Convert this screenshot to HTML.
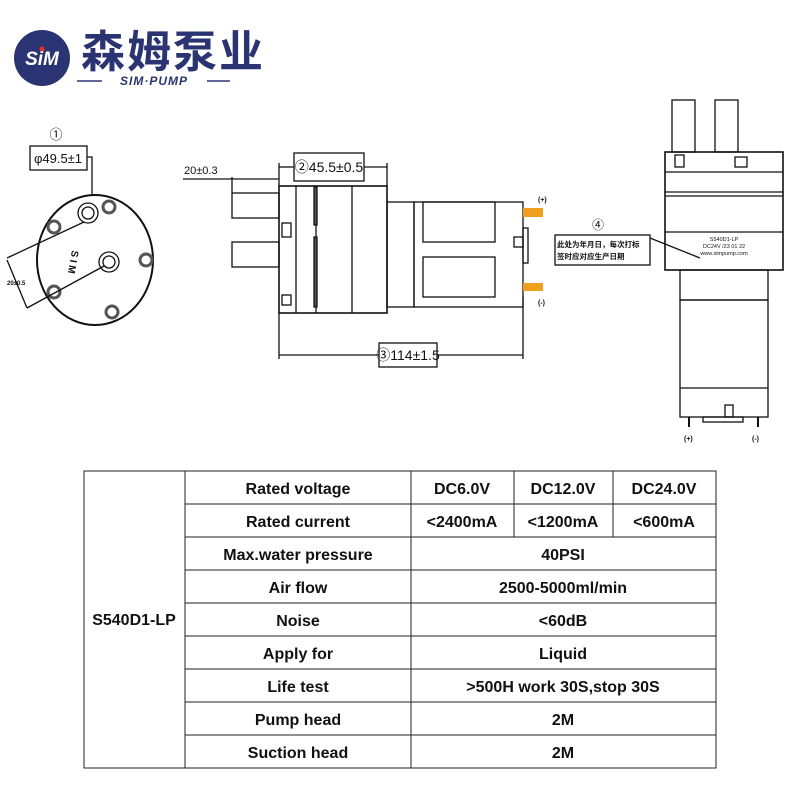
<!DOCTYPE html>
<html><head><meta charset="utf-8"><style>
body{margin:0;background:#fff}
svg{display:block}
text{font-family:"Liberation Sans","Noto Sans CJK SC",sans-serif}
</style></head><body>
<svg width="800" height="800" viewBox="0 0 800 800" xmlns="http://www.w3.org/2000/svg">
<!-- logo -->
<circle cx="42" cy="58" r="28" fill="#2b3472"/>
<text x="42" y="65" font-size="19" font-weight="bold" font-style="italic" fill="#fff" text-anchor="middle">SiM</text>
<circle cx="42" cy="49" r="2.5" fill="#e53030"/>
<text x="173" y="67" font-size="44" font-weight="bold" fill="#2b3472" text-anchor="middle" letter-spacing="2" font-family="Noto Sans CJK SC,sans-serif">森姆泵业</text>
<line x1="77" y1="81" x2="102" y2="81" stroke="#2b3472" stroke-width="1.5"/>
<line x1="207" y1="81" x2="230" y2="81" stroke="#2b3472" stroke-width="1.5"/>
<text x="154" y="85" font-size="12" font-weight="bold" font-style="italic" fill="#2b3472" text-anchor="middle" letter-spacing="1">SIM·PUMP</text>

<g fill="none" stroke="#111" stroke-width="1.3">
<!-- end view -->
<ellipse cx="95" cy="260" rx="58" ry="65" stroke-width="2"/>
<rect x="30" y="146" width="57" height="24"/>
<polyline points="87,157 92,157 92,195"/>
<circle cx="88" cy="213" r="10"/><circle cx="88" cy="213" r="6"/>
<circle cx="109" cy="262" r="10"/><circle cx="109" cy="262" r="6"/>
<circle cx="109" cy="207" r="6" stroke-width="3" stroke="#555"/>
<circle cx="54" cy="227" r="6" stroke-width="3" stroke="#555"/>
<circle cx="146" cy="260" r="6" stroke-width="3" stroke="#555"/>
<circle cx="54" cy="292" r="6" stroke-width="3" stroke="#555"/>
<circle cx="112" cy="312" r="6" stroke-width="3" stroke="#555"/>
<line x1="7" y1="258" x2="84" y2="222"/>
<line x1="27" y1="308" x2="104" y2="266"/>
<line x1="7" y1="260" x2="27" y2="308"/>
<!-- side view -->
<rect x="232" y="193" width="47" height="25"/>
<rect x="232" y="242" width="47" height="25"/>
<rect x="279" y="186" width="108" height="127" stroke-width="1.6"/>
<line x1="296" y1="186" x2="296" y2="313"/>
<line x1="316" y1="186" x2="316" y2="313"/>
<line x1="352" y1="186" x2="352" y2="313"/>
<rect x="314" y="187" width="3" height="38" fill="#555"/>
<rect x="314" y="237" width="3" height="70" fill="#555"/>
<rect x="282" y="223" width="9" height="14"/>
<rect x="282" y="295" width="9" height="10"/>
<rect x="387" y="202" width="27" height="105"/>
<rect x="414" y="202" width="109" height="105"/>
<rect x="423" y="202" width="72" height="40"/>
<rect x="423" y="257" width="72" height="40"/>
<rect x="523" y="228" width="5" height="35"/>
<rect x="514" y="237" width="9" height="10"/>
<rect x="294" y="153" width="70" height="28"/>
<line x1="183" y1="179" x2="279" y2="179"/>
<line x1="232" y1="177" x2="232" y2="193"/>
<line x1="279" y1="163" x2="279" y2="186"/>
<line x1="387" y1="163" x2="387" y2="186"/>
<line x1="279" y1="167" x2="294" y2="167"/><line x1="364" y1="167" x2="387" y2="167"/>
<line x1="279" y1="313" x2="279" y2="359"/>
<line x1="523" y1="297" x2="523" y2="359"/>
<line x1="279" y1="355" x2="379" y2="355"/><line x1="437" y1="355" x2="523" y2="355"/>
<rect x="379" y="343" width="58" height="24"/>
<!-- right view -->
<rect x="672" y="100" width="23" height="52"/>
<rect x="715" y="100" width="23" height="52"/>
<rect x="665" y="152" width="118" height="118" stroke-width="1.6"/>
<line x1="665" y1="172" x2="783" y2="172"/>
<line x1="665" y1="192" x2="783" y2="192"/>
<line x1="665" y1="196" x2="783" y2="196"/>
<line x1="665" y1="232" x2="783" y2="232"/>
<rect x="675" y="155" width="9" height="12"/>
<rect x="735" y="157" width="12" height="10"/>
<rect x="680" y="270" width="88" height="30"/>
<rect x="680" y="300" width="88" height="117"/>
<line x1="680" y1="388" x2="768" y2="388"/>
<rect x="703" y="417" width="40" height="5"/>
<rect x="725" y="405" width="8" height="12"/>
<line x1="689" y1="417" x2="689" y2="427" stroke-width="2"/>
<line x1="758" y1="417" x2="758" y2="427" stroke-width="2"/>
<rect x="555" y="235" width="95" height="30"/>
<polyline points="650,238 700,258"/>
</g>
<rect x="523" y="208" width="20" height="9" fill="#f0a020"/>
<rect x="523" y="283" width="20" height="8" fill="#f0a020"/>
<g font-size="7" fill="#111" font-weight="bold">
<text x="538" y="202">(+)</text><text x="538" y="305">(-)</text>
<text x="684" y="441">(+)</text><text x="752" y="441">(-)</text>
<text x="7" y="285" font-size="6">20±0.5</text>
</g>
<g fill="#111" font-size="14">
<text x="56" y="139" text-anchor="middle" font-size="13">①</text>
<text x="58" y="163" text-anchor="middle" font-size="13">φ49.5±1</text>
<text x="184" y="174" font-size="11">20±0.3</text>
<text x="329" y="172" text-anchor="middle">②45.5±0.5</text>
<text x="408" y="360" text-anchor="middle">③114±1.5</text>
<text x="598" y="229" text-anchor="middle" font-size="12">④</text>
<text x="557" y="247" font-size="7.5" font-weight="bold">此处为年月日，每次打标</text>
<text x="557" y="259" font-size="7.5" font-weight="bold">签时应对应生产日期</text>
<text x="724" y="241" font-size="5.5" text-anchor="middle">S540D1-LP</text>
<text x="724" y="248" font-size="5.5" text-anchor="middle">DC24V /23 01 22</text>
<text x="724" y="255" font-size="5.5" text-anchor="middle">www.simpump.com</text>
<text x="72" y="250" font-size="10" font-weight="bold" transform="rotate(100 72 250)">S I M</text>
</g>
<!-- table -->
<g stroke="#222" stroke-width="1" fill="none">
<rect x="84" y="471" width="632" height="297"/>
<line x1="185" y1="471" x2="185" y2="768"/>
<line x1="411" y1="471" x2="411" y2="768"/>
<line x1="514" y1="471" x2="514" y2="537"/>
<line x1="613" y1="471" x2="613" y2="537"/>
<line x1="185" y1="504" x2="716" y2="504"/>
<line x1="185" y1="537" x2="716" y2="537"/>
<line x1="185" y1="570" x2="716" y2="570"/>
<line x1="185" y1="603" x2="716" y2="603"/>
<line x1="185" y1="636" x2="716" y2="636"/>
<line x1="185" y1="669" x2="716" y2="669"/>
<line x1="185" y1="702" x2="716" y2="702"/>
<line x1="185" y1="735" x2="716" y2="735"/>
</g>
<g font-size="16" font-weight="bold" fill="#111" text-anchor="middle">
<text x="134" y="625">S540D1-LP</text>
<text x="298" y="494">Rated voltage</text>
<text x="298" y="527">Rated current</text>
<text x="298" y="560">Max.water pressure</text>
<text x="298" y="593">Air flow</text>
<text x="298" y="626">Noise</text>
<text x="298" y="659">Apply for</text>
<text x="298" y="692">Life test</text>
<text x="298" y="725">Pump head</text>
<text x="298" y="758">Suction head</text>
<text x="462" y="494">DC6.0V</text><text x="563" y="494">DC12.0V</text><text x="664" y="494">DC24.0V</text>
<text x="462" y="527">&lt;2400mA</text><text x="563" y="527">&lt;1200mA</text><text x="664" y="527">&lt;600mA</text>
<text x="563" y="560">40PSI</text>
<text x="563" y="593">2500-5000ml/min</text>
<text x="563" y="626">&lt;60dB</text>
<text x="563" y="659">Liquid</text>
<text x="563" y="692">&gt;500H work 30S,stop 30S</text>
<text x="563" y="725">2M</text>
<text x="563" y="758">2M</text>
</g>
</svg>
</body></html>
